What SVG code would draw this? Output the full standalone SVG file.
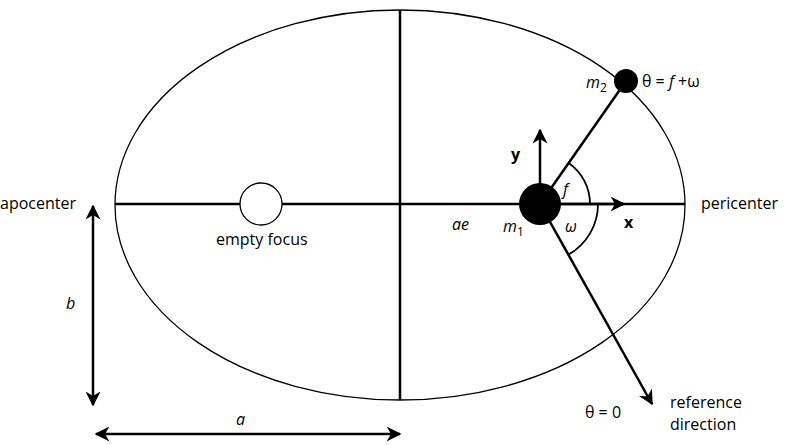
<svg xmlns="http://www.w3.org/2000/svg" width="792" height="445" viewBox="0 0 792 445">
<style>
text{font-family:"Open Sans","Liberation Sans",sans-serif;font-size:16px;fill:#000}
.i{font-style:italic}
.l{stroke:#000;fill:none;stroke-width:2.5}
</style>
<defs><marker id="ah" viewBox="0 0 10 10" refX="9" refY="5" markerWidth="6" markerHeight="6" orient="auto-start-reverse"><path d="M0,0 L10,5 L0,10 L3,5 z" fill="#000"/></marker></defs>
<rect width="792" height="445" fill="#fff"/>
<g id="orbit"><ellipse cx="400" cy="205" rx="285" ry="195" fill="none" stroke="#000" stroke-width="1.3"/></g>
<g id="connectors">
<line class="l" x1="400" y1="10" x2="400" y2="400"/>
<line class="l" x1="115" y1="204" x2="685" y2="204"/>
<line class="l" x1="540" y1="204" x2="626" y2="81"/>
<line class="l" x1="540" y1="204" x2="652" y2="404" marker-end="url(#ah)"/>
<line class="l" x1="540" y1="195" x2="540" y2="130" marker-end="url(#ah)"/>
<line class="l" x1="555" y1="204" x2="624" y2="204" marker-end="url(#ah)"/>
<line class="l" x1="93" y1="206" x2="93" y2="405" marker-start="url(#ah)" marker-end="url(#ah)"/>
<line class="l" x1="96" y1="434" x2="400" y2="434" marker-start="url(#ah)" marker-end="url(#ah)"/>
<path d="M568.7,163 A50,50 0 0 1 590,204" fill="none" stroke="#000" stroke-width="1.8"/>
<path d="M598,204 A58,58 0 0 1 568.8,254.4" fill="none" stroke="#000" stroke-width="1.8"/>
</g>
<g id="m1"><circle cx="540" cy="204" r="21" fill="#000"/><text class="i" x="503" y="232">m<tspan font-size="12" dy="4" font-style="normal">1</tspan></text></g>
<g id="m2"><circle cx="626" cy="81" r="12" fill="#000"/><text class="i" x="586" y="88">m<tspan font-size="12" dy="4" font-style="normal">2</tspan></text>
<text x="642" y="87">θ = <tspan class="i">f</tspan> +ω</text></g>
<g id="focus"><circle cx="261" cy="204" r="21" fill="#fff" stroke="#000" stroke-width="1.3"/><text x="216" y="245">empty focus</text></g>
<g id="labels">
<text x="0" y="209">apocenter</text>
<text x="701" y="209">pericenter</text>
<text class="i" x="452" y="230">ae</text>
<text x="511" y="160" font-weight="bold">y</text>
<text x="624" y="228" font-weight="bold">x</text>
<text class="i" x="563" y="195">f</text>
<text class="i" x="565" y="232">ω</text>
<text class="i" x="66" y="309">b</text>
<text class="i" x="236" y="425">a</text>
<text x="585" y="418">θ = 0</text>
<text x="670" y="408">reference</text>
<text x="670" y="430">direction</text>
</g>
</svg>
